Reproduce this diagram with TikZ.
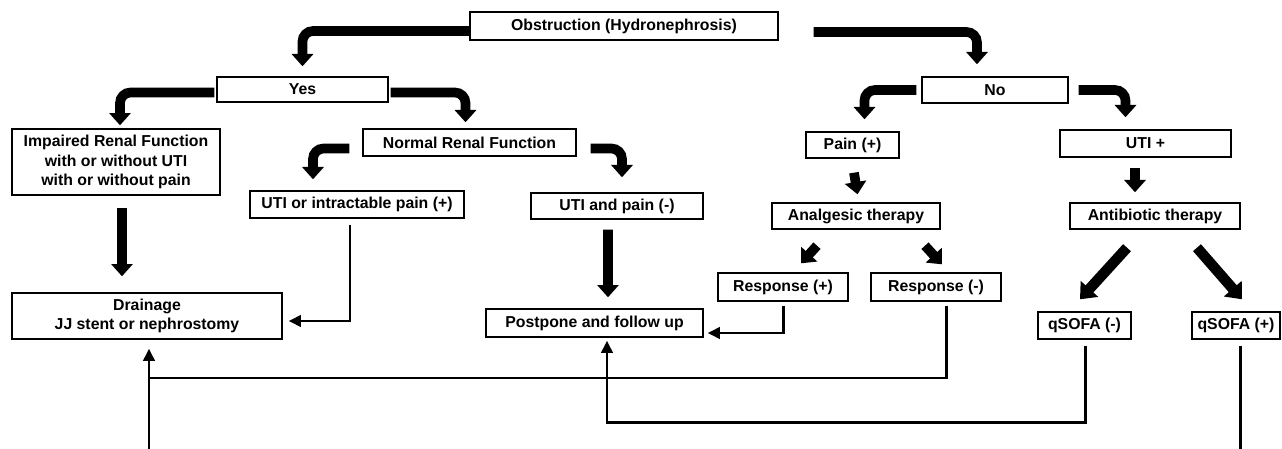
\documentclass[tikz,border=0pt]{standalone}
\usepackage{fontspec}
\setmainfont{Liberation Sans}
\usetikzlibrary{arrows.meta}
\tikzstyle{box}=[draw, line width=0.8pt, inner sep=1pt, align=center, font=\bfseries\fontsize{9}{11}\selectfont]
\tikzset{bigarrow/.style={-{Triangle[width=12pt,length=7pt]}, line width=5.5pt, rounded corners=6pt}}
\tikzset{diagarrow/.style={-{Triangle[width=13pt,length=8pt]}, line width=6pt}}
\tikzset{thinline/.style={line width=1.7pt}}
\tikzset{thinarrow/.style={thinline, -{Triangle[width=6.5pt,length=7pt]}}}

\begin{document}
\begin{tikzpicture}[x=0.02cm, y=-0.02cm]
  \useasboundingbox (0,0) rectangle (1282,449);
  %% Boxes
  \draw (624,26) node[box, minimum width=6.16cm, minimum height=0.56cm] (obs) {Obstruction (Hydronephrosis)};
  \draw (302.5,89.5) node[box, minimum width=3.42cm, minimum height=0.50cm] (yes) {Yes};
  \draw (995,90) node[box, minimum width=2.92cm, minimum height=0.52cm] (no) {No};

  \draw (116,162) node[box, minimum width=4.16cm, minimum height=1.32cm] (imp) {Impaired Renal Function\\with or without UTI\\with or without pain};
  \draw (469.5,142.5) node[box, minimum width=4.26cm, minimum height=0.54cm] (nrf) {Normal Renal Function};
  \draw (357,204.5) node[box, minimum width=4.28cm, minimum height=0.54cm] (utip) {UTI or intractable pain (+)};
  \draw (617,206) node[box, minimum width=3.44cm, minimum height=0.52cm] (utin) {UTI and pain (-)};
  \draw (147,316) node[box, minimum width=5.40cm, minimum height=0.92cm] (drain) {Drainage\\JJ stent or nephrostomy};
  \draw (594.5,323) node[box, minimum width=4.34cm, minimum height=0.56cm] (post) {Postpone and follow up};

  \draw (852.5,145) node[box, minimum width=1.86cm, minimum height=0.52cm] (pain) {Pain (+)};
  \draw (1145.5,143.5) node[box, minimum width=3.42cm, minimum height=0.54cm] (utiplus) {UTI +};
  \draw (856,216) node[box, minimum width=3.36cm, minimum height=0.52cm] (anal) {Analgesic therapy};
  \draw (1155,216) node[box, minimum width=3.40cm, minimum height=0.52cm] (anti) {Antibiotic therapy};
  \draw (783,287) node[box, minimum width=2.60cm, minimum height=0.56cm] (resp) {Response (+)};
  \draw (936,287) node[box, minimum width=2.60cm, minimum height=0.56cm] (resn) {Response (-)};
  \draw (1084.5,325.5) node[box, minimum width=1.86cm, minimum height=0.54cm] (qneg) {qSOFA (-)};
  \draw (1236,325.5) node[box, minimum width=1.76cm, minimum height=0.54cm] (qpos) {qSOFA (+)};

  %% Thick arrows
  \draw[bigarrow] ([shift={(0,5)}]obs.west) -| ([shift={(0,-10)}]yes.north);
  \draw[bigarrow] ([shift={(35,6)}]obs.east) -| ([shift={(-18,-12)}]no.north);
  \draw[bigarrow] ([shift={(-2,3)}]yes.west) -| ([shift={(4,-3)}]imp.north);
  \draw[bigarrow] ([shift={(2,3)}]yes.east) -| ([shift={(-4,-6)}]nrf.north);
  \draw[bigarrow] ([shift={(-5,0)}]no.west) -| ([shift={(12,-12)}]pain.north);
  \draw[bigarrow] ([shift={(10,0)}]no.east) -| ([shift={(-20,-12)}]utiplus.north);
  \draw[bigarrow] ([shift={(-13,6)}]nrf.west) -| ([shift={(-44,-11)}]utip.north);
  \draw[bigarrow] ([shift={(14,6)}]nrf.east) -| ([shift={(5,-15)}]utin.north);

  \draw[bigarrow] ([shift={(6,12)}]imp.south) -- ([shift={(-25,-16)}]drain.north);
  \draw[bigarrow] ([shift={(-9,10)}]utin.south) -- ([shift={(13.5,-11)}]post.north);
  \draw[bigarrow] ([shift={(1.5,14)}]pain.south) -- ([shift={(1.5,-8)}]anal.north);
  \draw[bigarrow] ([shift={(-10.5,10)}]utiplus.south) -- ([shift={(-20,-10)}]anti.north);

  \draw[bigarrow] ([shift={(-39,16)}]anal.south) -- ([shift={(18,-9)}]resp.north);
  \draw[bigarrow] ([shift={(69,16)}]anal.south) -- ([shift={(6,-8)}]resn.north);
  \draw[diagarrow] ([shift={(-28,18)}]anti.south) -- ([shift={(-4.5,-12)}]qneg.north);
  \draw[diagarrow] ([shift={(42,18)}]anti.south) -- ([shift={(6,-12)}]qpos.north);

  %% Thin connectors
  \coordinate (join) at (149,378);
  \coordinate (offl) at (149,449);
  \coordinate (offr) at (1240,449);
  \draw[thinarrow] ([shift={(-7,6)}]utip.south) |- ([shift={(6,5)}]drain.east);
  \draw[thinarrow] ([shift={(0,4)}]resp.south) |- ([shift={(4,10)}]post.east);
  \draw[thinline] ([shift={(10,4)}]resn.south) |- (join);
  \draw[thinarrow] (offl) -- ([shift={(2,9)}]drain.south);
  \draw[thinarrow] ([shift={(0.5,6)}]qneg.south) -- ++(0,77) -| ([shift={(12.5,3)}]post.south);
  \draw[thinline] ([shift={(4,6)}]qpos.south) -- (offr);
\end{tikzpicture}
\end{document}
